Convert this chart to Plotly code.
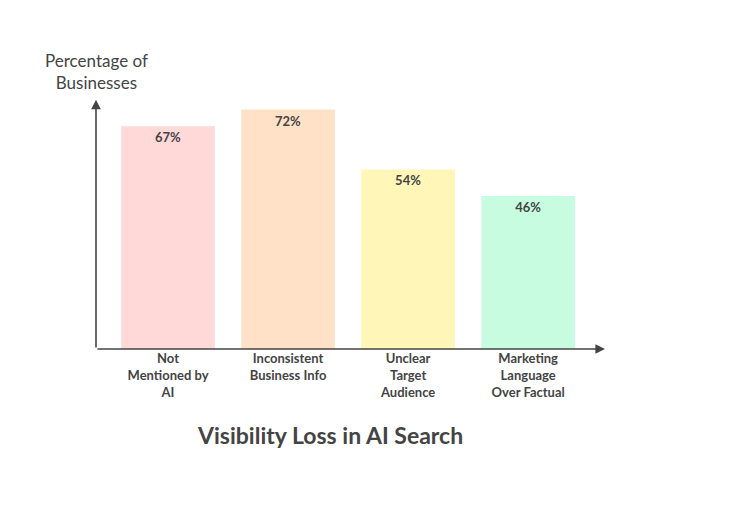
import plotly.graph_objects as go

categories = ["Not<br>Mentioned by<br>AI", "Inconsistent<br>Business Info",
              "Unclear<br>Target<br>Audience", "Marketing<br>Language<br>Over Factual"]
values = [67, 72, 54, 46]
colors = ["#FFD8D8", "#FFE1C8", "#FFF6B8", "#C8FCE0"]
INK = "#444444"
FONT = "Lato"

fig = go.Figure(go.Bar(
    x=list(range(len(values))), y=values,
    marker=dict(color=colors, line=dict(width=0)),
    width=0.78,
    text=[f"{v}%" for v in values], textposition="inside", insidetextanchor="end",
    textfont=dict(family=FONT, size=13, color=INK, weight="bold"),
    textangle=0,
))

fig.update_layout(
    width=756, height=528, plot_bgcolor="white", paper_bgcolor="white",
    margin=dict(l=88, r=159, t=75, b=187, autoexpand=False), showlegend=False,
    xaxis=dict(range=[-0.6, 3.64], tickvals=list(range(4)), ticktext=categories,
               showgrid=False, zeroline=False, showline=False, ticks="",
               tickfont=dict(family=FONT, size=13, color=INK, weight="bold")),
    yaxis=dict(range=[0, 80], showticklabels=False, showgrid=False,
               zeroline=False, showline=False),
)

# axes with arrowheads
fig.add_annotation(x=3.64, y=0, ax=-0.6, ay=0, xref="x", yref="y", axref="x", ayref="y",
                   showarrow=True, arrowhead=2, arrowsize=1.2, arrowwidth=1.6,
                   arrowcolor=INK, text="")
fig.add_annotation(x=-0.6, y=75, ax=-0.6, ay=0, xref="x", yref="y", axref="x", ayref="y",
                   showarrow=True, arrowhead=2, arrowsize=1.2, arrowwidth=1.6,
                   arrowcolor=INK, text="")

fig.add_annotation(x=3.7, y=0, xref="x", yref="y", xanchor="left", yanchor="middle",
                   text="Challenges", showarrow=False,
                   font=dict(family=FONT, size=17, color=INK))
fig.add_annotation(x=-0.6, y=76.5, xref="x", yref="y", xanchor="center", yanchor="bottom",
                   text="Percentage of<br>Businesses", showarrow=False,
                   font=dict(family=FONT, size=17, color=INK))
fig.add_annotation(x=0.46, y=-0.2, xref="paper", yref="paper", xanchor="center",
                   yanchor="middle", yshift=-33, text="Visibility Loss in AI Search",
                   showarrow=False,
                   font=dict(family=FONT, size=23, color=INK, weight="bold"))

fig.write_html("out.html")
